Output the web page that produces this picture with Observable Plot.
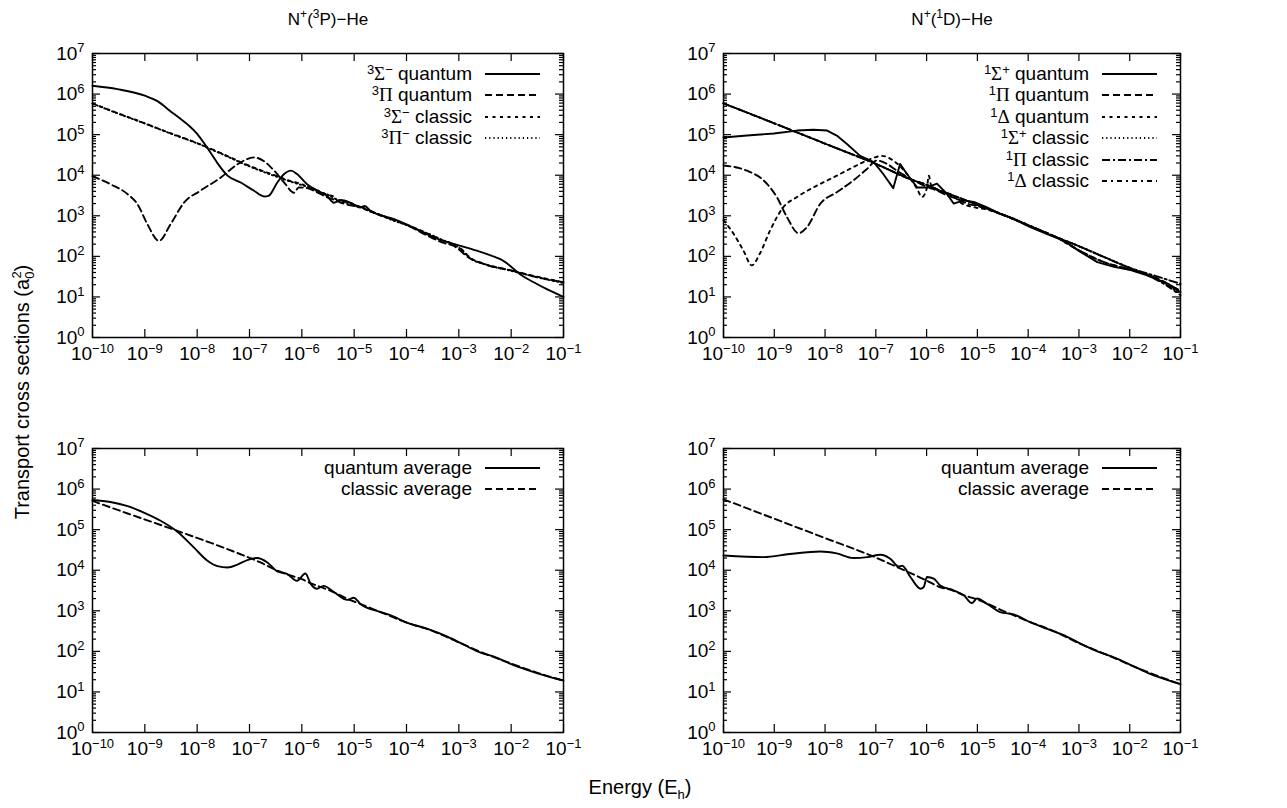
<!DOCTYPE html>
<html>
<head>
<meta charset="utf-8">
<script src="https://cdn.jsdelivr.net/npm/d3@7"></script>
<script src="https://cdn.jsdelivr.net/npm/@observablehq/plot@0.6"></script>
<style>
  body { margin: 0; background: #fff; }
  #wrap { position: relative; width: 1287px; height: 808px; font-family: "Liberation Sans", Arial, sans-serif; color: #000; overflow: hidden; }
  .panel { position: absolute; }
  .legend { position: absolute; font-size: 19px; }
  .legend .row { display: flex; align-items: center; justify-content: flex-end; height: 21.5px; }
  .legend .lbl { white-space: nowrap; text-align: right; }
  .legend svg { margin-left: 13px; }
  .g { font-family: "Liberation Serif", "Times New Roman", serif; }
  .legend sup { font-size: 13px; position: relative; top: -0.45em; vertical-align: baseline; line-height: 0; }
  #texts { position: absolute; left: 0; top: 0; }
</style>
</head>
<body>
<div id="wrap"></div>
<script>
// ---------- tick values ----------
const xTicks = [1e-10, 1e-9, 1e-8, 1e-7, 1e-6, 1e-5, 1e-4, 1e-3, 1e-2, 1e-1];
const yTicks = [1, 10, 100, 1e3, 1e4, 1e5, 1e6, 1e7];
const yMinorFactors = [2, 3, 4, 5, 6, 7, 8, 9];

// ---------- titles / labels ----------
const titleLeft = ["N", "+", "(", "3", "P)−He"];
const titleRight = ["N", "+", "(", "1", "D)−He"];

// ---------- N+(3P)-He, individual symmetries: [E (Eh), sigma (a0^2)] ----------
const tl_sigmaQuantum = [[1e-10,1.6e6],[3e-10,1.32e6],[1e-9,9.1e5],[1.8e-9,6.5e5],[3e-9,3.9e5],[5e-9,2.35e5],[7e-9,1.66e5],[1e-8,1.05e5],[1.4e-8,5.8e4],[2e-8,2.95e4],[2.5e-8,1.9e4],[3.8e-8,9.8e3],[6.8e-8,6.6e3],[1.2e-7,4.2e3],[1.9e-7,3.0e3],[2.3e-7,3.1e3],[3.4e-7,6.6e3],[4.6e-7,1.07e4],[6.2e-7,1.3e4],[8.1e-7,1.07e4],[1.26e-6,6.0e3],[1.95e-6,4.2e3],[3.0e-6,3.1e3],[4.1e-6,2.1e3],[5.5e-6,2.45e3],[8.5e-6,2.1e3],[1.3e-5,1.6e3],[1.6e-5,1.75e3],[2e-5,1.35e3],[2.75e-5,1.1e3],[5.8e-5,830],[1.17e-4,560],[2.45e-4,355],[5.1e-4,240],[1.07e-3,182],[2.2e-3,138],[4.7e-3,98],[6.2e-3,85],[9.5e-3,59],[1.48e-2,36],[2.7e-2,23],[4.8e-2,15.5],[0.1,10]];
const tl_piQuantum = [[1e-10,9.5e3],[2.2e-10,6.0e3],[4.7e-10,3.4e3],[7.2e-10,1.95e3],[1.12e-9,620],[1.86e-9,240],[3.1e-9,620],[5.6e-9,2.1e3],[1.17e-8,4.2e3],[2.8e-8,8.7e3],[5.9e-8,1.86e4],[1.23e-7,2.75e4],[1.9e-7,2.2e4],[2.95e-7,1.3e4],[4.6e-7,6.6e3],[7.1e-7,3.7e3],[8.7e-7,5.0e3],[1.26e-6,4.8e3],[1.95e-6,3.8e3],[3.0e-6,2.9e3],[4.1e-6,2.5e3],[6.3e-6,2.0e3],[8.5e-6,1.8e3],[1.3e-5,1.66e3],[2.75e-5,1.12e3],[5.8e-5,800],[1.17e-4,540],[2.45e-4,330],[5.1e-4,215],[8e-4,180],[1.58e-3,92],[3.2e-3,63],[1e-2,45],[3e-2,31],[0.1,23]];
const tl_sigmaClassic = [[1e-10,5.9e5],[3e-10,3.4e5],[1e-9,1.9e5],[3e-9,1.1e5],[1e-8,6.2e4],[3e-8,3.4e4],[1e-7,1.7e4],[3e-7,1.0e4],[6e-7,7.2e3],[1e-6,6.0e3],[1.5e-6,4.6e3],[2e-6,4.2e3],[3e-6,3.3e3],[4e-6,3.0e3],[5e-6,2.3e3],[7e-6,2.2e3],[1e-5,1.9e3],[1.5e-5,1.5e3],[2e-5,1.3e3],[3e-5,1.05e3],[5e-5,830],[1e-4,600],[2e-4,420],[3e-4,330],[5e-4,245],[8e-4,200],[1.2e-3,140],[1.6e-3,95],[3e-3,66],[1e-2,45],[3e-2,32],[0.1,23]];
const tl_piClassic = [[1e-10,5.8e5],[3e-10,3.35e5],[1e-9,1.88e5],[3e-9,1.08e5],[1e-8,6.1e4],[3e-8,3.3e4],[1e-7,1.65e4],[3e-7,9.6e3],[6e-7,7.0e3],[1e-6,5.7e3],[1.5e-6,4.8e3],[2e-6,4.0e3],[3e-6,3.4e3],[4e-6,2.8e3],[5e-6,2.4e3],[7e-6,2.1e3],[1e-5,1.85e3],[1.5e-5,1.55e3],[2e-5,1.28e3],[3e-5,1.08e3],[5e-5,810],[1e-4,590],[2e-4,410],[3e-4,335],[5e-4,250],[8e-4,195],[1.2e-3,135],[1.6e-3,92],[3e-3,65],[1e-2,44],[3e-2,31],[0.1,22]];

// ---------- N+(1D)-He, individual symmetries ----------
const tr_sigmaQuantum = [[1e-10,8.5e4],[2.9e-10,9.5e4],[9.8e-10,1.07e5],[2.8e-9,1.26e5],[5.9e-9,1.32e5],[1.1e-8,1.26e5],[1.7e-8,9.5e4],[2.7e-8,5.9e4],[4.9e-8,3.0e4],[9.1e-8,2.1e4],[1.4e-7,1.07e4],[2.2e-7,4.8e3],[3.0e-7,1.9e4],[4.1e-7,1.07e4],[6.5e-7,5.0e3],[1.02e-6,5.0e3],[1.6e-6,6.2e3],[2.5e-6,3.5e3],[3.4e-6,2.0e3],[5.4e-6,2.4e3],[8.5e-6,2.2e3],[1.55e-5,1.62e3],[2.8e-5,1.12e3],[5.2e-5,850],[1.1e-4,525],[2.3e-4,360],[5e-4,245],[1.07e-3,129],[2.3e-3,72],[4.9e-3,55],[1.05e-2,46],[2.2e-2,34],[4.7e-2,23],[0.1,13]];
const tr_piQuantum = [[1e-10,1.74e4],[2.9e-10,1.29e4],[6.2e-10,7.4e3],[1.12e-9,2.9e3],[1.78e-9,930],[3.0e-9,370],[4.4e-9,525],[8.1e-9,2.0e3],[1.7e-8,3.8e3],[3.6e-8,7.4e3],[6.8e-8,1.45e4],[1.05e-7,2.3e4],[1.66e-7,1.9e4],[2.6e-7,1.29e4],[5.6e-7,7.4e3],[1e-6,5.2e3],[1.6e-6,4.2e3],[2.5e-6,3.2e3],[4e-6,2.6e3],[6.3e-6,2.0e3],[1e-5,1.74e3],[3.2e-5,1.05e3],[1e-4,575],[3.2e-4,316],[1e-3,141],[3.2e-3,71],[1e-2,48],[3.2e-2,30],[0.1,14]];
const tr_deltaQuantum = [[1e-10,780],[1.58e-10,360],[2.45e-10,141],[3.6e-10,60],[5.2e-10,117],[8.3e-10,440],[1.5e-9,1.62e3],[2.8e-9,2.9e3],[5.9e-9,5.0e3],[1.48e-8,8.9e3],[3.6e-8,1.58e4],[7.8e-8,2.5e4],[1.32e-7,3.0e4],[2.2e-7,2.3e4],[4.1e-7,1.07e4],[6.5e-7,4.6e3],[8.1e-7,2.9e3],[1.02e-6,5.0e3],[1.1e-6,9.8e3],[1.26e-6,5.0e3],[2e-6,4.0e3],[3.2e-6,3.2e3],[5e-6,2.0e3],[7.9e-6,1.66e3],[1.58e-5,1.41e3],[3.2e-5,1.05e3],[1e-4,575],[3.2e-4,316],[1e-3,141],[3.2e-3,71],[1e-2,47],[3.2e-2,30],[0.1,14]];
const tr_sigmaClassic = [[1e-10,5.9e5],[1e-9,1.9e5],[1e-8,6.0e4],[1e-7,1.9e4],[5.6e-7,7.4e3],[1e-6,5.8e3],[2e-6,4.0e3],[4e-6,2.9e3],[1e-5,1.86e3],[3e-5,1.1e3],[1e-4,590],[3.2e-4,316],[1e-3,178],[3.2e-3,95],[1e-2,52],[3.2e-2,28],[0.1,12]];
const tr_piClassic = [[1e-10,5.9e5],[1e-9,1.9e5],[1e-8,6.0e4],[1e-7,1.9e4],[5.6e-7,7.4e3],[1e-6,5.8e3],[2e-6,4.0e3],[4e-6,2.9e3],[1e-5,1.86e3],[3e-5,1.1e3],[1e-4,590],[3.2e-4,316],[1e-3,178],[3.2e-3,95],[1e-2,52],[3.2e-2,33],[0.1,21]];
const tr_deltaClassic = [[1e-10,5.9e5],[1e-9,1.9e5],[1e-8,6.0e4],[1e-7,1.9e4],[5.6e-7,7.4e3],[1e-6,5.8e3],[2e-6,4.0e3],[4e-6,2.9e3],[1e-5,1.86e3],[3e-5,1.1e3],[1e-4,590],[3.2e-4,316],[1e-3,178],[3.2e-3,95],[1e-2,52],[1.6e-2,42],[2.5e-2,32],[5e-2,20],[0.1,11]];

// ---------- averages ----------
const bl_quantumAvg = [[1e-10,5.4e5],[2.2e-10,4.8e5],[4.7e-10,3.8e5],[9.8e-10,2.6e5],[2e-9,1.66e5],[4.2e-9,8.9e4],[8.7e-9,3.6e4],[1.55e-8,1.74e4],[2.45e-8,1.26e4],[3.8e-8,1.17e4],[5.9e-8,1.38e4],[9.1e-8,1.78e4],[1.4e-7,2.0e4],[2.2e-7,1.55e4],[3.4e-7,9.3e3],[5.2e-7,8.1e3],[8.1e-7,5.5e3],[1.17e-6,8.3e3],[1.48e-6,4.6e3],[1.95e-6,3.5e3],[2.6e-6,4.1e3],[4.1e-6,2.9e3],[7.4e-6,1.86e3],[9.8e-6,2.1e3],[1.32e-5,1.48e3],[3.2e-5,930],[4.9e-5,780],[1.02e-4,510],[2.45e-4,363],[5.9e-4,234],[1.07e-3,162],[2.2e-3,102],[5.4e-3,69],[9.5e-3,50],[2e-2,35],[4.8e-2,24.5],[0.1,19]];
const bl_classicAvg = [[1e-10,5.1e5],[4.7e-10,2.5e5],[4.2e-9,9.3e4],[3.8e-8,3.3e4],[1.62e-7,1.55e4],[3.4e-7,9.8e3],[5.2e-7,7.9e3],[1e-6,6.0e3],[1.58e-6,4.6e3],[2.5e-6,3.7e3],[4e-6,2.9e3],[7.9e-6,1.9e3],[1.26e-5,1.51e3],[3.2e-5,930],[1e-4,510],[3.2e-4,316],[1e-3,166],[3.2e-3,87],[1e-2,50],[3.2e-2,29.5],[0.1,19]];
const br_quantumAvg = [[1e-10,2.3e4],[6.2e-10,2.1e4],[2e-9,2.5e4],[8.1e-9,2.9e4],[1.7e-8,2.6e4],[3.6e-8,2.0e4],[6.8e-8,2.1e4],[1.23e-7,2.4e4],[1.95e-7,1.9e4],[2.8e-7,1.23e4],[3.3e-7,1.29e4],[4.8e-7,6.8e3],[7.6e-7,3.5e3],[8.7e-7,3.8e3],[1.02e-6,6.8e3],[1.38e-6,6.2e3],[1.86e-6,4.2e3],[3.4e-6,3.2e3],[5.4e-6,2.4e3],[7.8e-6,1.55e3],[9.8e-6,2.0e3],[1.55e-5,1.48e3],[2.8e-5,930],[5.2e-5,810],[1.1e-4,525],[2.3e-4,363],[5e-4,251],[1.07e-3,155],[2.3e-3,100],[5.6e-3,66],[1.05e-2,46],[2.2e-2,30],[4.7e-2,21],[0.1,15.5]];
const br_classicAvg = [[1e-10,5.6e5],[1e-9,1.86e5],[1e-8,6.2e4],[1e-7,2.05e4],[2.6e-7,1.2e4],[1.02e-6,5.5e3],[1.86e-6,3.8e3],[3.2e-6,3.2e3],[5e-6,2.5e3],[1e-5,1.9e3],[3.2e-5,1e3],[1e-4,550],[3.2e-4,316],[1e-3,158],[3.2e-3,87],[1e-2,47],[3.2e-2,26],[0.1,15.5]];

// ---------- legend labels ----------
const tl_labels = ['<sup>3</sup><span class="g">Σ</span><sup>−</sup> quantum', '<sup>3</sup><span class="g">Π</span> quantum', '<sup>3</sup><span class="g">Σ</span><sup>−</sup> classic', '<sup>3</sup><span class="g">Π</span><sup>−</sup> classic'];
const tr_labels = ['<sup>1</sup><span class="g">Σ</span><sup>+</sup> quantum', '<sup>1</sup><span class="g">Π</span> quantum', '<sup>1</sup><span class="g">Δ</span> quantum', '<sup>1</sup><span class="g">Σ</span><sup>+</sup> classic', '<sup>1</sup><span class="g">Π</span> classic', '<sup>1</sup><span class="g">Δ</span> classic'];
const avg_labels = ['quantum average', 'classic average'];

// ---------- styles ----------
const DASH = { solid: null, dashed: "7,4", dotted: "3,4.5", fine: "1.2,3", dashdot: "8,3,2,3", dashdot2: "5,4,2,4" };

const wrap = document.getElementById("wrap");
const yMinor = yTicks.slice(0, -1).flatMap(d => yMinorFactors.map(k => k * d));

function supLabels(svg) {
  d3.select(svg).selectAll("text").each(function () {
    const t = this.textContent;
    const m = /^10\^(-?\d+)$/.exec(t);
    if (!m) return;
    const sel = d3.select(this);
    sel.text(null);
    sel.append("tspan").text("10");
    sel.append("tspan").attr("dy", "-0.55em").attr("font-size", "13px").text(m[1].replace("-", "−"));
  });
}

function panel({ left, top, fw, fh, series }) {
  const mL = 62, mR = 20, mT = 12, mB = 34;
  const ink = { stroke: "black", strokeWidth: 1.2 };
  const chart = Plot.plot({
    width: mL + fw + mR, height: mT + fh + mB,
    marginLeft: mL, marginRight: mR, marginTop: mT, marginBottom: mB,
    style: { fontFamily: "Liberation Sans, Arial, sans-serif", fontSize: "19px", background: "transparent", overflow: "visible", color: "black" },
    x: { type: "log", domain: [1e-10, 1e-1] },
    y: { type: "log", domain: [1, 1e7] },
    marks: [
      ...series.map(s => Plot.line(s.data, {
        x: d => d[0], y: d => d[1], stroke: "black", strokeWidth: 1.9,
        strokeDasharray: s.dash, curve: s.curve || "monotone-x"
      })),
      Plot.tickX(xTicks, { x: d => d, insetTop: fh - 8, ...ink }),
      Plot.tickX(xTicks, { x: d => d, insetBottom: fh - 8, ...ink }),
      Plot.tickY(yTicks, { y: d => d, insetRight: fw - 8, ...ink }),
      Plot.tickY(yTicks, { y: d => d, insetLeft: fw - 8, ...ink }),
      Plot.tickY(yMinor, { y: d => d, insetRight: fw - 4, ...ink }),
      Plot.tickY(yMinor, { y: d => d, insetLeft: fw - 4, ...ink }),
      Plot.axisX(xTicks, { tickSize: 0, tickPadding: 9, tickFormat: d => "10^" + Math.round(Math.log10(d)), label: null }),
      Plot.axisY(yTicks, { tickSize: 0, tickPadding: 8, tickFormat: d => "10^" + Math.round(Math.log10(d)), label: null }),
      Plot.frame({ stroke: "black", strokeWidth: 1.5 })
    ]
  });
  supLabels(chart);
  chart.classList.add("panel");
  chart.style.left = (left - mL) + "px";
  chart.style.top = (top - mT) + "px";
  wrap.appendChild(chart);
}

function legend(labels, dashes, rightEdge, top) {
  const div = document.createElement("div");
  div.className = "legend";
  div.style.right = (1287 - rightEdge) + "px";
  div.style.top = top + "px";
  labels.forEach((lab, i) => {
    const row = document.createElement("div");
    row.className = "row";
    const span = document.createElement("span");
    span.className = "lbl";
    span.innerHTML = lab;
    row.appendChild(span);
    const s = d3.create("svg").attr("width", 55).attr("height", 10);
    s.append("line").attr("x1", 0).attr("x2", 55).attr("y1", 5).attr("y2", 5)
      .attr("stroke", "black").attr("stroke-width", 2)
      .attr("stroke-dasharray", dashes[i]);
    row.appendChild(s.node());
    div.appendChild(row);
  });
  wrap.appendChild(div);
}

// panels
panel({ left: 92, top: 53, fw: 471, fh: 284, series: [
  { data: tl_sigmaQuantum, dash: DASH.solid },
  { data: tl_piQuantum, dash: DASH.dashed },
  { data: tl_sigmaClassic, dash: DASH.dotted },
  { data: tl_piClassic, dash: DASH.fine }
]});
panel({ left: 723, top: 53, fw: 457, fh: 284, series: [
  { data: tr_sigmaQuantum, dash: DASH.solid, curve: "linear" },
  { data: tr_piQuantum, dash: DASH.dashed },
  { data: tr_deltaQuantum, dash: DASH.dotted },
  { data: tr_sigmaClassic, dash: DASH.fine },
  { data: tr_piClassic, dash: DASH.dashdot },
  { data: tr_deltaClassic, dash: DASH.dashdot2 }
]});
panel({ left: 92, top: 448, fw: 471, fh: 284, series: [
  { data: bl_quantumAvg, dash: DASH.solid },
  { data: bl_classicAvg, dash: DASH.dashed }
]});
panel({ left: 723, top: 448, fw: 457, fh: 284, series: [
  { data: br_quantumAvg, dash: DASH.solid },
  { data: br_classicAvg, dash: DASH.dashed }
]});

legend(tl_labels, [DASH.solid, DASH.dashed, DASH.dotted, DASH.fine], 540, 63);
legend(tr_labels, [DASH.solid, DASH.dashed, DASH.dotted, DASH.fine, DASH.dashdot, DASH.dashdot2], 1157, 63);
legend(avg_labels, [DASH.solid, DASH.dashed], 540, 457);
legend(avg_labels, [DASH.solid, DASH.dashed], 1157, 457);

// titles and axis labels
const T = d3.create("svg").attr("id", "texts").attr("width", 1287).attr("height", 808)
  .style("font-family", "Liberation Sans, Arial, sans-serif").style("pointer-events", "none");
function title(parts, x) {
  const t = T.append("text").attr("x", x).attr("y", 25).attr("text-anchor", "middle").attr("font-size", 17);
  t.append("tspan").text(parts[0]);
  t.append("tspan").attr("dy", -7).attr("font-size", 12).text(parts[1]);
  t.append("tspan").attr("dy", 7).text(parts[2]);
  t.append("tspan").attr("dy", -7).attr("font-size", 12).text(parts[3]);
  t.append("tspan").attr("dy", 7).text(parts[4]);
}
title(titleLeft, 328);
title(titleRight, 952);
const xl = T.append("text").attr("x", 640).attr("y", 794).attr("text-anchor", "middle").attr("font-size", 20);
xl.append("tspan").text("Energy (E");
xl.append("tspan").attr("dy", 5).attr("font-size", 13).text("h");
xl.append("tspan").attr("dy", -5).text(")");
const yl = T.append("text").attr("transform", "translate(29,392) rotate(-90)").attr("text-anchor", "middle").attr("font-size", 20);
yl.append("tspan").text("Transport cross sections (a");
yl.append("tspan").attr("dy", 5).attr("font-size", 13).text("0");
yl.append("tspan").attr("dx", -7).attr("dy", -13).attr("font-size", 13).text("2");
yl.append("tspan").attr("dy", 8).text(")");
wrap.appendChild(T.node());
</script>
</body>
</html>
